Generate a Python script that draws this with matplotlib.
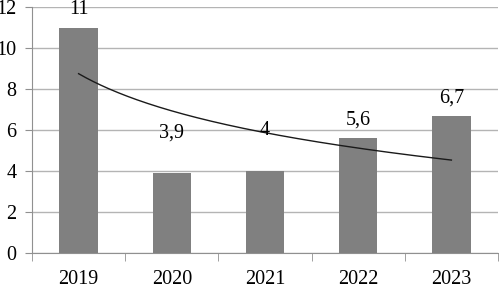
import numpy as np
import matplotlib
matplotlib.use("Agg")
import matplotlib.pyplot as plt
from matplotlib.ticker import FixedLocator

years = ["2019", "2020", "2021", "2022", "2023"]
values = [11, 3.9, 4, 5.6, 6.7]
labels = ["11", "3,9", "4", "5,6", "6,7"]
label_offsets = [6, 22, 22, 6, 6]  # points above bar top

plt.rcParams['font.family'] = ['Liberation Serif', 'DejaVu Serif']

fig = plt.figure(figsize=(4.99, 2.86), dpi=100)
ax = fig.add_axes([32/499, 1-253/286, 466/499, 246/286])

x = np.arange(1, len(values)+1)
ax.bar(x, values, width=0.41, color="#808080", zorder=3)

# logarithmic trend line
lx = np.log(x)
b, a = np.polyfit(lx, values, 1)
xs = np.linspace(1, len(values), 200)
ax.plot(xs, a + b*np.log(xs), color="#1a1a1a", lw=1.0, zorder=4)

for xi, v, lab, off in zip(x, values, labels, label_offsets):
    ax.annotate(lab, (xi, v), xytext=(0, off), textcoords="offset points",
                ha="center", va="bottom", fontsize=14.5, zorder=5,
                annotation_clip=False)

ax.set_xlim(0.5, len(values)+0.5)
ax.set_ylim(0, 12)
ax.set_yticks(np.arange(0, 13, 2))
ax.yaxis.grid(True, color="#b4b4b4", lw=1.0, zorder=0)
ax.set_axisbelow(True)

ax.set_xticks(x)
ax.set_xticklabels(years, fontsize=14.5)
ax.tick_params(axis="x", which="major", length=0, pad=12)
ax.xaxis.set_minor_locator(FixedLocator(np.arange(0.5, len(values)+1, 1)))
ax.tick_params(axis="x", which="minor", length=6, color="#909090", direction="out")
ax.tick_params(axis="y", labelsize=14.5, length=5, color="#909090", pad=6)

for s in ["top", "right"]:
    ax.spines[s].set_visible(False)
for s in ["left", "bottom"]:
    ax.spines[s].set_color("#909090")

fig.savefig("out.png", dpi=100)
